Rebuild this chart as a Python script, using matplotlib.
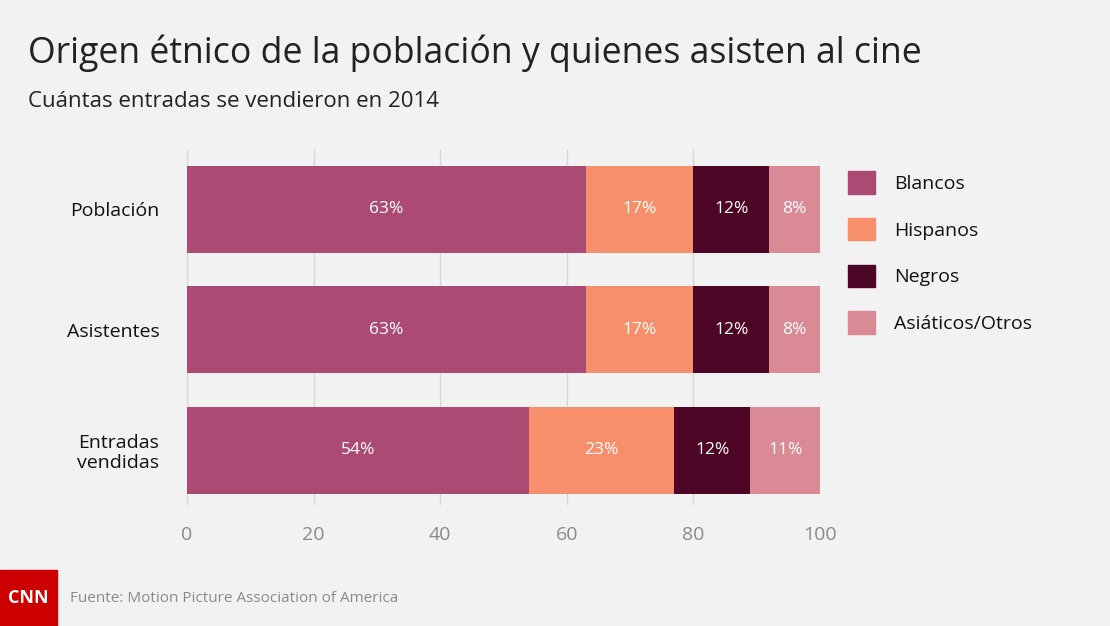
import matplotlib.pyplot as plt
import matplotlib.patches as mpatches
import numpy as np

# datos
categorias = ['Población', 'Asistentes', 'Entradas\nvendidas']
series = ['Blancos', 'Hispanos', 'Negros', 'Asiáticos/Otros']
blancos = [63, 63, 54]
hispanos = [17, 17, 23]
negros = [12, 12, 12]
asiaticos = [8, 8, 11]
colores = ['#AB4A72', '#F78F6C', '#4D0625', '#D98A95']
ticks_x = [0, 20, 40, 60, 80, 100]

plt.rcParams['font.family'] = ['Open Sans', 'DejaVu Sans']
fondo = '#F2F2F2'

fig = plt.figure(figsize=(11.1, 6.26), dpi=100, facecolor=fondo)
ax = fig.add_axes([0.1685, 0.193, 0.5702, 0.567])
ax.set_facecolor(fondo)

valores = [blancos, hispanos, negros, asiaticos]
y = np.arange(len(categorias))
izq = np.zeros(len(categorias))
for vals, col in zip(valores, colores):
    vals = np.array(vals)
    ax.barh(y, vals, left=izq, height=0.72, color=col, zorder=2)
    for yi, l, v in zip(y, izq, vals):
        ax.text(l + v / 2, yi, f'{v}%', ha='center', va='center',
                color='white', fontsize=12.5, zorder=3)
    izq = izq + vals

ax.set_xlim(0, 100)
ax.set_ylim(2.456, -0.49)
ax.set_xticks(ticks_x)
ax.set_xticklabels([str(t) for t in ticks_x], color='#8A8A8A', fontsize=14)
ax.set_yticks(y)
ax.set_yticklabels(categorias, fontsize=14, color='#111111', linespacing=1.1)
ax.tick_params(length=0)
ax.tick_params(axis='x', pad=15)
ax.tick_params(axis='y', pad=28)
ax.grid(axis='x', color='#D6D6D6', linewidth=1, zorder=0)
for s in ax.spines.values():
    s.set_visible(False)
for lbl in ax.get_yticklabels():
    lbl.set_multialignment('right')
ax.tick_params(axis='y', pad=20)

# leyenda
handles = [mpatches.Patch(color=c, label=s) for s, c in zip(series, colores)]
leg = fig.legend(handles=handles, loc='upper left', bbox_to_anchor=(0.757, 0.739),
                 frameon=False, fontsize=14, handlelength=1.4, handleheight=1.4,
                 labelspacing=1.25, handletextpad=0.95, borderaxespad=0)
for t in leg.get_texts():
    t.set_color('#111111')

fig.text(0.025, 0.915, 'Origen étnico de la población y quienes asisten al cine',
         fontsize=25.7, color='#222222', va='center')
fig.text(0.025, 0.838, 'Cuántas entradas se vendieron en 2014',
         fontsize=16, color='#222222', va='center')

# logo y fuente
fig.patches.append(mpatches.Rectangle((0, 0), 57 / 1110, 56 / 626,
                                      transform=fig.transFigure,
                                      color='#CC0000', zorder=5))
fig.text(28 / 1110, 28 / 626, 'CNN', color='white', fontsize=13,
         fontweight='bold', ha='center', va='center', zorder=6)
fig.text(70 / 1110, 28 / 626, 'Fuente: Motion Picture Association of America',
         fontsize=11, color='#8A8A8A', va='center')

fig.savefig('out.png', dpi=100, facecolor=fondo)
